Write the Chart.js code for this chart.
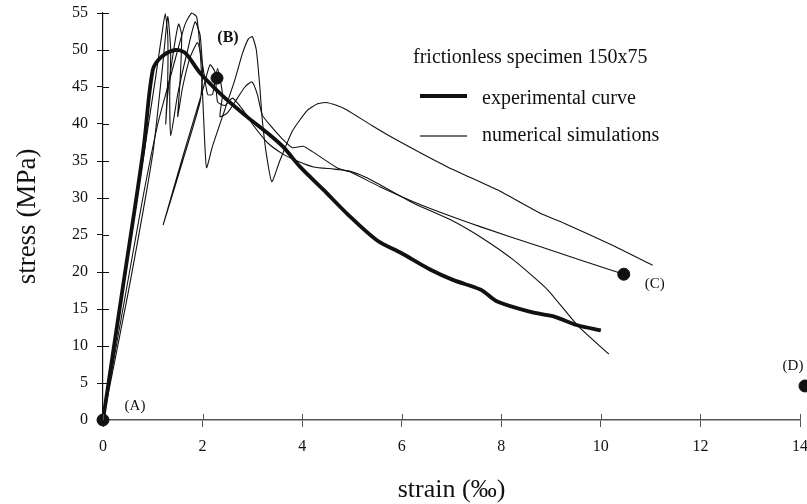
<!DOCTYPE html>
<html><head><meta charset="utf-8">
<script src="https://cdn.jsdelivr.net/npm/chart.js@4/dist/chart.umd.min.js"></script>
<style>html,body{margin:0;padding:0;background:#fff}#wrap{width:807px;height:504px;position:relative}</style>
</head><body><div id="wrap"><canvas id="c" width="807" height="504"></canvas></div>
<script>
// ---- data (strain in per mille, stress in MPa) ----
const expStrain = [0, 0.4, 0.81, 1.0, 1.18, 1.45, 1.65, 1.95, 2.42, 2.89, 3.3, 3.62, 3.96, 4.43, 4.9, 5.5, 5.98, 6.58, 7.04, 7.59, 7.92, 8.59, 9.05, 9.53, 10.0];
const expStress = [0, 18, 36.5, 47.3, 49.1, 50.0, 49.6, 46.9, 43.7, 41.0, 38.8, 36.9, 34.2, 31.1, 27.9, 24.3, 22.6, 20.3, 18.9, 17.6, 16.0, 14.6, 14.0, 12.8, 12.1];

const simAStrain = [0, 0.4, 0.8, 1.1, 1.3, 1.5, 1.65, 1.78, 1.88, 1.95, 2.0, 2.04, 2.08, 2.2, 2.45, 2.65, 2.8, 2.92, 3.0, 3.08, 3.15, 3.2, 3.28, 3.39, 3.55, 3.8, 4.1, 4.3, 4.47, 4.7, 4.9, 5.4, 5.91, 6.92, 7.92, 8.79, 9.26, 10.2, 11.04];
const simAStress = [0, 15, 30, 40, 45, 50, 53.5, 55, 54.5, 50, 44, 38, 34.1, 37, 42, 46, 49.5, 51.5, 51.8, 50, 45, 40.5, 36, 32.2, 35, 39, 41.8, 42.7, 42.9, 42.5, 41.9, 39.8, 37.8, 34.2, 31.1, 27.9, 26.6, 23.7, 20.9];

const simBStrain = [0, 0.4, 0.8, 1.05, 1.18, 1.25, 1.3, 1.3, 1.26, 1.3, 1.42, 1.52, 1.58, 1.55, 1.5, 1.6, 1.75, 1.9, 2.0, 2.1, 2.2, 2.3, 2.4, 2.35, 2.5, 2.7, 2.85, 2.99, 3.1, 3.2, 3.4, 3.6, 3.8, 4.02, 4.2, 4.7, 4.97, 5.57, 6.38, 7.59, 8.79, 9.6, 10.46];
const simBStress = [0, 17.5, 35, 46, 52, 54.9, 52, 46, 40, 44, 50, 53.5, 52, 46, 41, 45, 49, 51, 48, 44, 44, 47.5, 44, 41, 41.5, 43.5, 45, 45.7, 44, 41.2, 39.5, 38, 36.8, 37, 36.3, 34.1, 33.5, 31.5, 29.1, 26.1, 23.4, 21.6, 19.7];

const simCStrain = [0, 0.5, 1.0, 1.2, 1.3, 1.36, 1.34, 1.36, 1.5, 1.7, 1.85, 1.95, 2.0, 1.95, 1.6, 1.21, 1.62, 2.0, 2.15, 2.25, 2.3, 2.45, 2.6, 2.8, 3.0, 3.3, 3.6, 3.9, 4.23, 4.64, 4.97, 5.31, 6.24, 7.0, 7.59, 8.25, 8.93, 9.53, 10.16];
const simCStress = [0, 17, 36, 48, 54.5, 50, 44, 38.4, 44, 50, 53.8, 52, 47, 43, 35, 26.4, 36, 44.5, 48, 47, 43, 42.5, 43.5, 42, 40, 37.5, 36, 35, 34.2, 33.9, 33.6, 32.7, 29.3, 27, 24.7, 21.6, 17.6, 12.8, 8.9];

const markStrain = [0, 2.29, 10.46, 14.1];
const markStress = [0, 46.2, 19.7, 4.6];
const markLabels = ['(A)', '(B)', '(C)', '(D)'];

const xTicks = [0, 2, 4, 6, 8, 10, 12, 14];
const yTicks = [0, 5, 10, 15, 20, 25, 30, 35, 40, 45, 50, 55];

const legendTitle = 'frictionless specimen 150x75';
const legendNames = ['experimental curve', 'numerical simulations'];
const xTitle = 'strain (‰)';
const yTitle = 'stress (MPa)';

// ---- build ----
const pts = (xs, ys) => xs.map((x, i) => ({x: x, y: ys[i]}));
const SERIF = "'Liberation Serif', 'Times New Roman', serif";

const lineDs = (xs, ys, w, t) => ({
  data: pts(xs, ys), showLine: true, borderColor: '#111', borderWidth: w,
  pointRadius: 0, tension: t, fill: false, clip: false
});

const extras = {
  id: 'extras',
  afterDatasetsDraw(chart) {
    const ctx = chart.ctx, xs = chart.scales.x, ys = chart.scales.y;
    ctx.save();
    // inner halves of tick marks
    ctx.lineWidth = 1;
    ctx.strokeStyle = '#111';
    yTicks.forEach(v => { const p = Math.round(ys.getPixelForValue(v)) + 0.5; ctx.beginPath(); ctx.moveTo(xs.left, p); ctx.lineTo(xs.left + 6, p); ctx.stroke(); });
    ctx.strokeStyle = '#555';
    xTicks.forEach(v => { const p = Math.round(xs.getPixelForValue(v)) + 0.5; ctx.beginPath(); ctx.moveTo(p, ys.bottom); ctx.lineTo(p, ys.bottom - 6); ctx.stroke(); });
    // point labels
    ctx.fillStyle = '#111';
    ctx.textAlign = 'center'; ctx.textBaseline = 'middle';
    const offs = [[32, -14], [11, -40], [31, 10], [-12, -20]];
    markLabels.forEach((t, i) => {
      ctx.font = (i === 1 ? 'bold 16px ' : '15px ') + SERIF;
      ctx.fillText(t, xs.getPixelForValue(markStrain[i]) + offs[i][0], ys.getPixelForValue(markStress[i]) + offs[i][1]);
    });
    // legend
    ctx.textAlign = 'left'; ctx.textBaseline = 'alphabetic';
    ctx.font = '20px ' + SERIF;
    ctx.fillText(legendTitle, 413, 63);
    ctx.fillText(legendNames[0], 482, 104);
    ctx.fillText(legendNames[1], 482, 141);
    ctx.lineWidth = 4; ctx.strokeStyle = '#111';
    ctx.beginPath(); ctx.moveTo(420, 96); ctx.lineTo(467, 96); ctx.stroke();
    ctx.lineWidth = 1.3; ctx.strokeStyle = '#444';
    ctx.beginPath(); ctx.moveTo(420, 136); ctx.lineTo(467, 136); ctx.stroke();
    ctx.restore();
  }
};

new Chart(document.getElementById('c'), {
  type: 'scatter',
  data: {
    datasets: [
      {data: pts(markStrain, markStress), pointRadius: 6, pointHoverRadius: 6, backgroundColor: '#111', borderColor: '#111', showLine: false, clip: false},
      lineDs(expStrain, expStress, 3.8, 0.3),
      lineDs(simAStrain, simAStress, 1.1, 0.18),
      lineDs(simBStrain, simBStress, 1.1, 0.18),
      lineDs(simCStrain, simCStress, 1.1, 0.18)
    ]
  },
  options: {
    responsive: false, animation: false, devicePixelRatio: 1,
    layout: {padding: {top: 13, right: 7, left: 0, bottom: 0}},
    plugins: {legend: {display: false}, tooltip: {enabled: false}},
    scales: {
      x: {
        type: 'linear', min: 0, max: 14,
        afterFit: s => { s.height = 84; s.paddingRight = 0; s.paddingLeft = 0; },
        afterBuildTicks: s => { s.ticks = xTicks.map(v => ({value: v})); },
        grid: {drawOnChartArea: false, drawTicks: true, tickLength: 7, color: '#555'},
        border: {display: true, color: '#555', width: 1.5},
        ticks: {color: '#111', padding: 10, font: {family: SERIF, size: 16}, maxRotation: 0},
        title: {display: true, text: xTitle, color: '#111', font: {family: SERIF, size: 26, lineHeight: 1}, padding: {top: 0, bottom: 1}}
      },
      y: {
        type: 'linear', min: 0, max: 55,
        afterFit: s => { s.width = 103; s.paddingTop = 0; s.paddingBottom = 0; },
        afterBuildTicks: s => { s.ticks = yTicks.map(v => ({value: v})); },
        grid: {drawOnChartArea: false, drawTicks: true, tickLength: 6, color: '#111'},
        border: {display: true, color: '#111', width: 1.2},
        ticks: {color: '#111', padding: 9, font: {family: SERIF, size: 16}},
        title: {display: true, text: yTitle, color: '#111', font: {family: SERIF, size: 27, lineHeight: 1}, padding: {top: 14, bottom: 0}}
      }
    }
  },
  plugins: [extras]
});
</script></body></html>
